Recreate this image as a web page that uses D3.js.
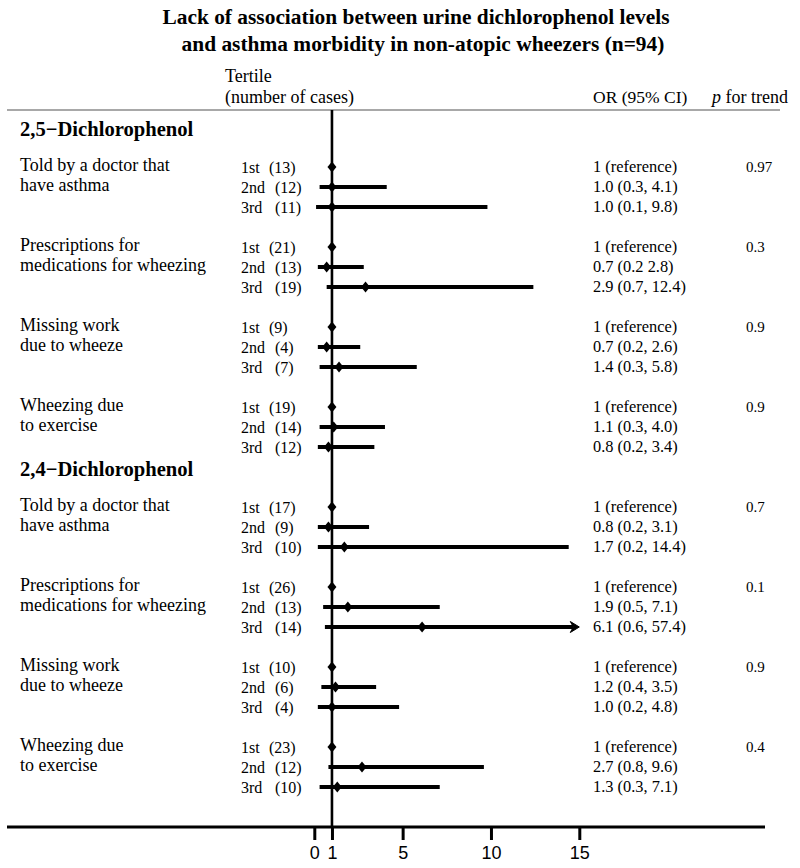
<!DOCTYPE html>
<html>
<head>
<meta charset="utf-8">
<script src="https://cdn.jsdelivr.net/npm/d3@7"></script>
<style>
  html, body { margin: 0; padding: 0; background: #fff; }
  svg { display: block; }
  text { font-family: "Liberation Serif", "Times New Roman", serif; fill: #000; }
</style>
</head>
<body>
<svg id="chart" width="800" height="868"></svg>
<script>
// ---------------- DATA ----------------
const titleLines = [
  "Lack of association between urine dichlorophenol levels",
  "and asthma morbidity in non-atopic wheezers (n=94)"
];
const sections = ["2,5\u2212Dichlorophenol", "2,4\u2212Dichlorophenol"];
const outcomes = [
  ["Told by a doctor that", "have asthma"],
  ["Prescriptions for", "medications for wheezing"],
  ["Missing work", "due to wheeze"],
  ["Wheezing due", "to exercise"]
];
const tertiles = ["1st", "2nd", "3rd"];
// 8 groups: 4 outcomes for 2,5-DCP then 4 outcomes for 2,4-DCP
const cases = [
  [13, 12, 11], [21, 13, 19], [9, 4, 7], [19, 14, 12],
  [17, 9, 10], [26, 13, 14], [10, 6, 4], [23, 12, 10]
];
const orValues = [
  [1, 1.0, 1.0], [1, 0.7, 2.9], [1, 0.7, 1.4], [1, 1.1, 0.8],
  [1, 0.8, 1.7], [1, 1.9, 6.1], [1, 1.2, 1.0], [1, 2.7, 1.3]
];
const ciLower = [
  [null, 0.3, 0.1], [null, 0.2, 0.7], [null, 0.2, 0.3], [null, 0.3, 0.2],
  [null, 0.2, 0.2], [null, 0.5, 0.6], [null, 0.4, 0.2], [null, 0.8, 0.3]
];
const ciUpper = [
  [null, 4.1, 9.8], [null, 2.8, 12.4], [null, 2.6, 5.8], [null, 4.0, 3.4],
  [null, 3.1, 14.4], [null, 7.1, 57.4], [null, 3.5, 4.8], [null, 9.6, 7.1]
];
const orText = [
  ["1 (reference)", "1.0 (0.3, 4.1)", "1.0 (0.1, 9.8)"],
  ["1 (reference)", "0.7 (0.2 2.8)", "2.9 (0.7, 12.4)"],
  ["1 (reference)", "0.7 (0.2, 2.6)", "1.4 (0.3, 5.8)"],
  ["1 (reference)", "1.1 (0.3, 4.0)", "0.8 (0.2, 3.4)"],
  ["1 (reference)", "0.8 (0.2, 3.1)", "1.7 (0.2, 14.4)"],
  ["1 (reference)", "1.9 (0.5, 7.1)", "6.1 (0.6, 57.4)"],
  ["1 (reference)", "1.2 (0.4, 3.5)", "1.0 (0.2, 4.8)"],
  ["1 (reference)", "2.7 (0.8, 9.6)", "1.3 (0.3, 7.1)"]
];
const pTrend = ["0.97", "0.3", "0.9", "0.9", "0.7", "0.1", "0.9", "0.4"];
const tickValues = [0, 1, 5, 10, 15];
const xDomain = [0, 15];

// ---------------- LAYOUT ----------------
const svg = d3.select("#chart");
const x = d3.scaleLinear().domain(xDomain).range([314.3, 579.3]);
// each row is a 20px slot; 4 slots per outcome group, one extra slot before the 2nd section
const y = d3.scaleLinear().domain([0, 1]).range([167, 187]);
const slotOf = (g, r) => g * 4 + r + (g >= 4 ? 1 : 0);

const axisY = 827;
const topY = 110;

// Title
svg.append("g").selectAll("text").data(titleLines).join("text")
  .attr("x", (d, i) => i === 0 ? 416 : 423)
  .attr("y", (d, i) => 24 + i * 27)
  .attr("text-anchor", "middle")
  .style("font-weight", "bold")
  .style("font-size", "21.4px")
  .text(d => d);

// Column headers
svg.append("text").attr("x", 225).attr("y", 82).style("font-size", "18px").text("Tertile");
svg.append("text").attr("x", 225).attr("y", 103).style("font-size", "18px").text("(number of cases)");
svg.append("text").attr("x", 593).attr("y", 103).style("font-size", "17.5px").text("OR (95% CI)");
const pt = svg.append("text").attr("x", 712).attr("y", 103).style("font-size", "18px");
pt.append("tspan").style("font-style", "italic").text("p");
pt.append("tspan").text(" for trend");

// Grey header rule
svg.append("line").attr("x1", 7).attr("x2", 780).attr("y1", topY).attr("y2", topY)
  .attr("stroke", "#a8a8a8").attr("stroke-width", 2);

// Reference vertical line at OR = 1
svg.append("line").attr("x1", x(1)).attr("x2", x(1)).attr("y1", topY).attr("y2", axisY)
  .attr("stroke", "#000").attr("stroke-width", 2.6);

// Axis
svg.append("line").attr("x1", 7).attr("x2", 765).attr("y1", axisY).attr("y2", axisY)
  .attr("stroke", "#000").attr("stroke-width", 2.8);
const axis = d3.axisBottom(x).tickValues(tickValues).tickSize(13).tickPadding(6).tickFormat(d3.format("d"));
const ax = svg.append("g").attr("transform", `translate(0,${axisY})`).call(axis);
ax.select(".domain").remove();
ax.selectAll(".tick line").attr("stroke", "#000").attr("stroke-width", 3);
ax.selectAll(".tick text")
  .style("font-family", "'Liberation Sans', Arial, sans-serif")
  .style("font-size", "18px").attr("fill", "#000");

// Section headers
sections.forEach((s, k) => {
  svg.append("text")
    .attr("x", 20)
    .attr("y", y(slotOf(k * 4, 0)) - 31)
    .style("font-weight", "bold").style("font-size", "20.6px")
    .text(s);
});

// Build rows
const rows = [];
cases.forEach((cs, g) => {
  cs.forEach((c, r) => {
    rows.push({
      g, r, n: c, or: orValues[g][r], lo: ciLower[g][r], hi: ciUpper[g][r],
      label: orText[g][r], tert: tertiles[r], yy: y(slotOf(g, r))
    });
  });
});

// Outcome labels and p for trend
cases.forEach((cs, g) => {
  const lines = outcomes[g % 4];
  svg.append("g").selectAll("text").data(lines).join("text")
    .attr("x", 20)
    .attr("y", (d, i) => y(slotOf(g, 0)) + 4 + i * 20)
    .style("font-size", "18px")
    .text(d => d);
  svg.append("text")
    .attr("x", 746).attr("y", y(slotOf(g, 0)) + 5)
    .style("font-size", "15px").text(pTrend[g]);
});

const rowG = svg.append("g").selectAll("g").data(rows).join("g");

rowG.append("text").attr("x", 241).attr("y", d => d.yy + 5.5)
  .style("font-size", "16px").text(d => d.tert);
rowG.append("text").attr("x", d => d.r === 0 ? 269 : 275).attr("y", d => d.yy + 5.5)
  .style("font-size", "16px").text(d => `(${d.n})`);
rowG.append("text").attr("x", 593).attr("y", d => d.yy + 5)
  .style("font-size", "16.4px").text(d => d.label);

// CI lines
const ciRows = rows.filter(d => d.lo !== null);
svg.append("g").selectAll("line").data(ciRows).join("line")
  .attr("x1", d => x(Math.max(d.lo, xDomain[0])))
  .attr("x2", d => d.hi > xDomain[1] ? x(xDomain[1]) - 6 : x(d.hi))
  .attr("y1", d => d.yy).attr("y2", d => d.yy)
  .attr("stroke", "#000").attr("stroke-width", 3.8);

// Arrow heads for truncated CIs
svg.append("g").selectAll("path").data(ciRows.filter(d => d.hi > xDomain[1])).join("path")
  .attr("d", d => {
    const xe = x(xDomain[1]);
    return `M${xe - 9},${d.yy - 5.5} L${xe},${d.yy} L${xe - 9},${d.yy + 5.5} L${xe - 6},${d.yy} Z`;
  })
  .attr("fill", "#000").attr("stroke", "#000").attr("stroke-width", 1);

// Diamonds
svg.append("g").selectAll("path").data(rows).join("path")
  .attr("d", d => {
    const cx = x(d.or), cy = d.yy;
    return `M${cx},${cy - 5.5} L${cx + 4.5},${cy} L${cx},${cy + 5.5} L${cx - 4.5},${cy} Z`;
  })
  .attr("fill", "#000");
</script>
</body>
</html>
